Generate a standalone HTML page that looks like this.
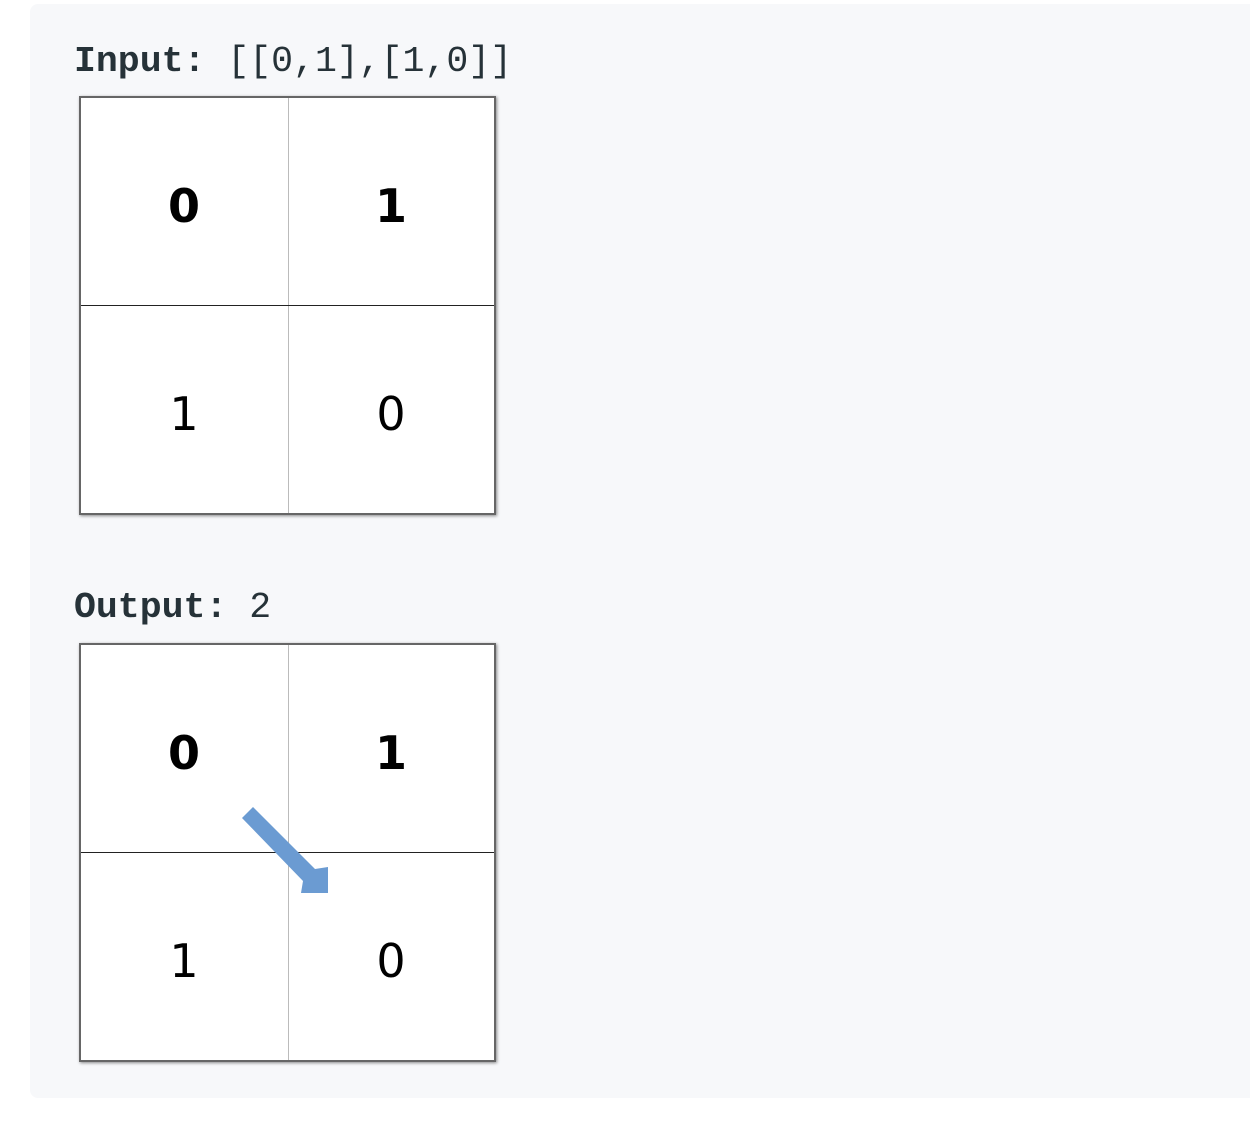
<!DOCTYPE html>
<html><head><style>
body{margin:0;width:1250px;height:1126px;background:#fff;position:relative;overflow:hidden}
.panel{position:absolute;left:30px;top:4px;width:1240px;height:1094px;background:#f7f8fa;border-radius:8px}
.lbl{position:absolute;left:74px;font-family:"Liberation Mono","DejaVu Sans Mono",monospace;font-size:36.5px;color:#263238;line-height:1;white-space:pre}
.lbl b{font-weight:bold}
.grid{position:absolute;left:79px;width:417px;height:419px;background:#fff;border:2px solid #666;box-sizing:border-box;box-shadow:1px 1px 3px rgba(0,0,0,.45)}
.v{position:absolute;left:207px;top:0;bottom:0;width:1px;background:#bbb}
.h{position:absolute;left:0;right:0;top:207px;height:1px;background:#222}
.n{position:absolute;font-family:"DejaVu Sans","Liberation Sans",sans-serif;font-size:46px;color:#000;width:60px;text-align:center;line-height:1}
</style></head><body>
<div class="panel"></div>
<div class="lbl" style="top:44px"><b>Input:</b> [[0,1],[1,0]]</div>
<div class="grid" style="top:96px">
<div class="v"></div><div class="h"></div>
<div class="n" style="left:73px;top:85px;font-weight:bold">0</div>
<div class="n" style="left:280px;top:85px;font-weight:bold">1</div>
<div class="n" style="left:73px;top:293px">1</div>
<div class="n" style="left:280px;top:293px">0</div>
</div>
<div class="lbl" style="top:590px"><b>Output:</b> 2</div>
<div class="grid" style="top:643px">
<div class="v"></div><div class="h"></div>
<div class="n" style="left:73px;top:85px;font-weight:bold">0</div>
<div class="n" style="left:280px;top:85px;font-weight:bold">1</div>
<div class="n" style="left:73px;top:293px">1</div>
<div class="n" style="left:280px;top:293px">0</div>
</div>
<svg style="position:absolute;left:0;top:0" width="1250" height="1126">
<polygon points="242,818 253,807 315,869 328,867 328,893 301,893 303,881" fill="#6b9bd2"/>
</svg>
</body></html>
